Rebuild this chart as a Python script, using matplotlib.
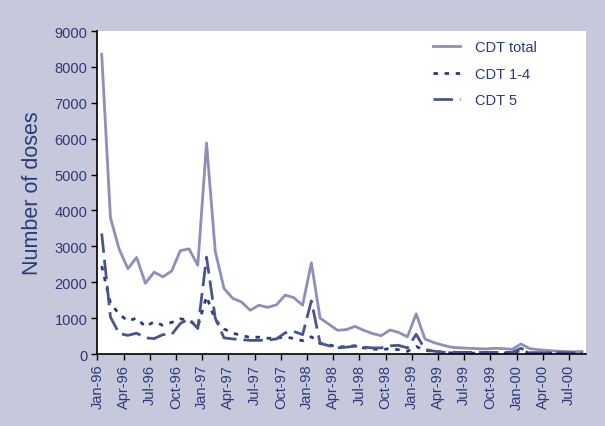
import matplotlib
matplotlib.use("Agg")
import matplotlib.pyplot as plt
import numpy as np

plt.rcParams['font.family'] = ['Liberation Sans', 'DejaVu Sans']

months = ["Jan", "Feb", "Mar", "Apr", "May", "Jun", "Jul", "Aug", "Sep", "Oct", "Nov", "Dec"]
categories = [f"{months[m]}-{(96 + y) % 100:02d}" for y in range(5) for m in range(12)][:56]

cdt_total = [8350, 3800, 2920, 2380, 2690, 1970, 2280, 2150, 2310, 2880, 2930, 2470,
             5880, 2860, 1830, 1550, 1450, 1220, 1360, 1300, 1370, 1640, 1570, 1360,
             2540, 1000, 830, 660, 680, 770, 660, 570, 510, 670, 600, 480,
             1120, 420, 320, 250, 190, 170, 160, 150, 140, 160, 150, 130,
             280, 150, 120, 100, 80, 70, 60, 70]
cdt_14 = [2450, 1420, 1110, 920, 1000, 760, 900, 800, 880, 980, 940, 760,
          1600, 950, 700, 580, 520, 460, 470, 440, 440, 480, 430, 370,
          480, 290, 260, 190, 210, 230, 170, 140, 120, 150, 120, 75,
          210, 100, 75, 55, 30, 30, 25, 25, 25, 25, 25, 25,
          100, 25, 25, 25, 20, 20, 20, 20]
cdt_5 = [3360, 1030, 570, 520, 580, 450, 430, 540, 540, 850, 980, 710,
         2700, 1000, 450, 420, 400, 380, 380, 390, 420, 590, 630, 540,
         1480, 300, 230, 170, 190, 220, 190, 170, 170, 230, 240, 170,
         550, 130, 80, 50, 50, 45, 45, 45, 45, 45, 45, 45,
         160, 40, 35, 35, 35, 35, 35, 35]

yticks = list(range(0, 9001, 1000))
tick_idx = list(range(0, 56, 3))
tick_labels = [categories[i] for i in tick_idx]

navy = "#2B3A7A"
bg = "#C8C8DC"

fig = plt.figure(figsize=(6.05, 4.27), dpi=100, facecolor=bg)
ax = fig.add_axes([0.1603, 0.1686, 0.8083, 0.7564])
ax.set_facecolor("white")

x = np.arange(len(categories))
ax.plot(x, cdt_total, color="#8C8EBC", lw=2.0, label="CDT total")
ax.plot(x, cdt_14, color="#2B3A7A", lw=2.0, linestyle=(0, (1.6, 2.4)), label="CDT 1-4")
ax.plot(x, cdt_5, color="#4A5392", lw=2.0, linestyle=(0, (7, 2.5)), label="CDT 5")

ax.set_xlim(-0.54, 55.44)
ax.set_ylim(0, 9000)
ax.set_yticks(yticks)
ax.set_yticklabels([str(v) for v in yticks], color=navy, fontsize=10.5)
ax.set_xticks([i - 0.5 for i in tick_idx])
ax.set_xticklabels(tick_labels, rotation=90, color=navy, fontsize=10.5)
ax.tick_params(axis='both', direction='out', length=4, width=1, color='black')
ax.tick_params(axis='x', pad=3)
ax.tick_params(axis='y', pad=3)
for s in ["top", "right"]:
    ax.spines[s].set_visible(False)
for s in ["left", "bottom"]:
    ax.spines[s].set_color("black")
    ax.spines[s].set_linewidth(1.2)

ax.set_ylabel("Number of doses", color=navy, fontsize=15.5, labelpad=8)

leg = ax.legend(loc="upper left", bbox_to_anchor=(0.661, 1.012), frameon=False,
                fontsize=10.5, handlelength=1.85, handletextpad=1.0, labelspacing=0.85,
                labelcolor=navy)

fig.savefig("out.png", dpi=100, facecolor=bg)
